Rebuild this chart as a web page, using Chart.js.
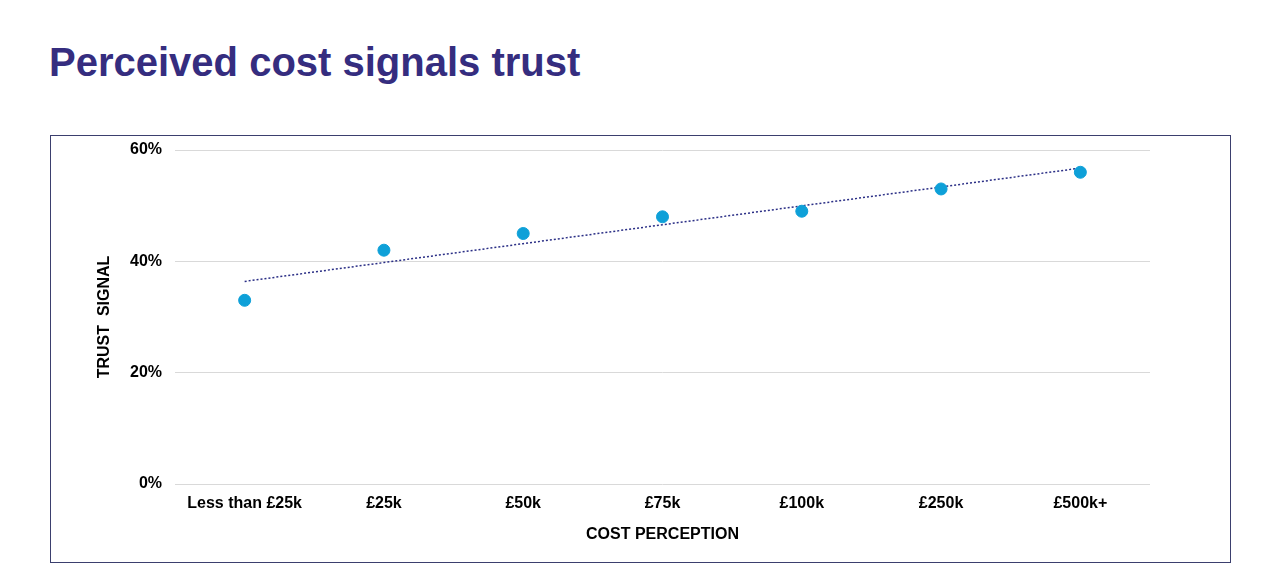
<!DOCTYPE html>
<html>
<head>
<meta charset="utf-8">
<script src="https://cdn.jsdelivr.net/npm/chart.js@4"></script>
<style>
    body { margin: 0; background: #fff; font-family: "Liberation Sans", Arial, sans-serif; }
    h1 {
        position: absolute; left: 49px; top: 37px; margin: 0;
        font-size: 40px; font-weight: bold; color: #352d7f; line-height: 50px;
    }
    #box {
        position: absolute; left: 50px; top: 135px; width: 1179px; height: 426px;
        border: 1px solid #3b3f6e;
    }
</style>
</head>
<body>
<h1>Perceived cost signals trust</h1>
<div id="box"><canvas id="myChart" width="1179" height="426"></canvas></div>
<script>
const categories = ['Less than £25k', '£25k', '£50k', '£75k', '£100k', '£250k', '£500k+'];
const trustValues = [33, 42, 45, 48, 49, 53, 56];
const yTicks = [0, 20, 40, 60];

// linear trendline (least squares) like the spreadsheet one
function trend(values) {
    const n = values.length;
    let sx = 0, sy = 0, sxy = 0, sxx = 0;
    values.forEach((v, i) => { sx += i; sy += v; sxy += i * v; sxx += i * i; });
    const slope = (n * sxy - sx * sy) / (n * sxx - sx * sx);
    const icpt = (sy - slope * sx) / n;
    return values.map((v, i) => icpt + slope * i);
}

const tickFont = { family: 'Liberation Sans', size: 16, weight: 'bold' };

function loadChart() {
    const ctx = document.getElementById('myChart');

    const data = {
        labels: categories,
        datasets: [{
            label: 'Trust signal',
            data: trustValues,
            showLine: false,
            pointRadius: 6,
            pointHoverRadius: 6,
            pointBackgroundColor: '#0ea0d8',
            pointBorderColor: '#0ea0d8',
            order: 1
        }, {
            label: 'Trend',
            data: trend(trustValues),
            borderColor: '#2b2f86',
            borderWidth: 1.5,
            borderDash: [2, 2],
            pointRadius: 0,
            fill: false,
            order: 2
        }]
    };

    new Chart(ctx, {
        type: 'line',
        data: data,
        options: {
            responsive: false,
            animation: false,
            layout: { padding: { left: 44, right: 80, top: 14, bottom: 18 } },
            plugins: {
                legend: { display: false },
                tooltip: { enabled: false }
            },
            scales: {
                x: {
                    offset: true,
                    grid: { display: false },
                    border: { display: false },
                    ticks: { color: '#000', font: tickFont, padding: 2, maxRotation: 0 },
                    title: {
                        display: true, text: 'COST PERCEPTION', color: '#000',
                        font: tickFont, padding: 0
                    },
                    afterFit: (s) => { s.height = 60; }
                },
                y: {
                    min: 0,
                    max: 60,
                    afterBuildTicks: (s) => { s.ticks = yTicks.map(v => ({ value: v })); },
                    grid: { color: '#d9d9d9', drawTicks: false },
                    border: { display: false },
                    ticks: {
                        color: '#000', font: tickFont, padding: 13,
                        callback: (v) => v + '%'
                    },
                    title: {
                        display: true, text: 'TRUST  SIGNAL', color: '#000',
                        font: tickFont, padding: 0
                    },
                    afterFit: (s) => { s.width = 80; s.paddingTop = 0; s.paddingBottom = 0; }
                }
            }
        }
    });
}

loadChart();
</script>
</body>
</html>
